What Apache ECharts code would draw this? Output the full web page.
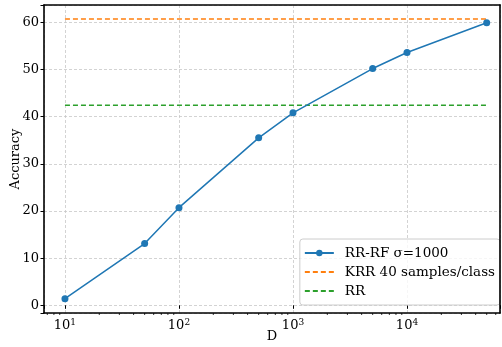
<!DOCTYPE html>
<html>
<head>
<meta charset="utf-8">
<script src="https://cdn.jsdelivr.net/npm/echarts@6/dist/echarts.min.js"></script>
<style>
  html, body { margin: 0; padding: 0; background: #fff; }
  #chart { width: 502px; height: 347px; }
</style>
</head>
<body>
<div id="chart"></div>
<script>
// data
var dims = [10, 50, 100, 500, 1000, 5000, 10000, 50000];
var rrRf = [1.4, 13.1, 20.7, 35.5, 40.8, 50.2, 53.6, 59.9];
var krr = 60.7;
var rr = 42.4;
var xMin = 6.55, xMax = 65400;
var yMin = -1.63, yMax = 63.67;

var font = 'DejaVu Serif';

// minor ticks of the log axis (2..9 x 10^k)
var minor = [];
for (var e = 0; e <= 4; e++) {
    for (var k = 2; k <= 9; k++) {
        var v = k * Math.pow(10, e);
        if (v > xMin && v < xMax) minor.push([v, yMin]);
    }
}

// plain axes used only to draw the black frame above the grid lines
function frameX(pos) {
    return {
        type: 'log', min: xMin, max: xMax, position: pos, z: 10,
        axisLine: { show: true, onZero: false, lineStyle: { color: '#000', width: 1.6 } },
        axisTick: { show: false }, axisLabel: { show: false }, splitLine: { show: false }
    };
}
function frameY(pos) {
    return {
        type: 'value', min: yMin, max: yMax, position: pos, z: 10,
        axisLine: { show: true, onZero: false, lineStyle: { color: '#000', width: 1.6 } },
        axisTick: { show: false }, axisLabel: { show: false }, splitLine: { show: false }
    };
}

var chart = echarts.init(document.getElementById('chart'));

var option = {
    animation: false,
    textStyle: { fontFamily: font },
    grid: {
        left: 44, right: 2, top: 5, bottom: 34,
        outerBoundsMode: 'none',
        containLabel: false
    },
    legend: {
        data: [
            { name: 'RR-RF σ=1000' },
            { name: 'KRR 40 samples/class', itemStyle: { opacity: 0 } },
            { name: 'RR', itemStyle: { opacity: 0 } }
        ],
        orient: 'vertical',
        right: 2, bottom: 42,
        padding: [7, 5, 7, 4],
        itemWidth: 29, itemHeight: 8, itemGap: 5,
        backgroundColor: 'rgba(255,255,255,0.8)',
        borderColor: '#cccccc', borderWidth: 1, borderRadius: 3,
        textStyle: { fontFamily: font, fontSize: 13.5, color: '#000', padding: [0, 0, 0, 6] }
    },
    xAxis: [{
        type: 'log',
        min: xMin, max: xMax,
        name: 'D', nameLocation: 'middle', nameGap: 17, nameMoveOverlap: false,
        nameTextStyle: { fontFamily: font, fontSize: 13, color: '#000' },
        axisLine: { show: false },
        axisTick: { show: true, length: 3.5, lineStyle: { color: '#000', width: 1 } },
        axisLabel: {
            color: '#000', margin: 5, fontFamily: font, fontSize: 13,
            formatter: function (v) {
                var e = Math.round(Math.log10(v));
                if (Math.abs(Math.log10(v) - e) > 1e-6) return '';
                return '10{s|' + e + '}';
            },
            rich: {
                s: { fontSize: 9, fontFamily: font, color: '#000', verticalAlign: 'top', padding: [0, 0, 6, 0] }
            }
        },
        splitLine: { show: true, lineStyle: { color: '#c8c8c8', type: [3, 2], width: 0.8 } }
    }, frameX('bottom'), frameX('top')],
    yAxis: [{
        type: 'value',
        min: yMin, max: yMax,
        name: 'Accuracy', nameLocation: 'middle', nameGap: 22, nameRotate: 90, nameMoveOverlap: false,
        nameTextStyle: { fontFamily: font, fontSize: 13, color: '#000' },
        axisLine: { show: false },
        axisTick: { show: true, length: 3.5, lineStyle: { color: '#000', width: 1 } },
        axisLabel: {
            color: '#000', margin: 5, fontFamily: font, fontSize: 13,
            formatter: function (v) {
                return Math.abs(v % 10) < 1e-6 ? String(v) : '';
            }
        },
        splitLine: { show: true, lineStyle: { color: '#c8c8c8', type: [3, 2], width: 0.8 } }
    }, frameY('left'), frameY('right')],
    series: [
        {
            name: 'RR-RF σ=1000',
            type: 'line',
            data: dims.map(function (d, i) { return [d, rrRf[i]]; }),
            symbol: 'circle', symbolSize: 7,
            lineStyle: { color: '#1f77b4', width: 1.5 },
            itemStyle: { color: '#1f77b4' },
            z: 5
        },
        {
            name: 'KRR 40 samples/class',
            type: 'line',
            data: [[dims[0], krr], [dims[dims.length - 1], krr]],
            symbol: 'none',
            lineStyle: { color: '#ff7f0e', width: 1.5, type: [5, 3] },
            itemStyle: { color: '#ff7f0e' }
        },
        {
            name: 'RR',
            type: 'line',
            data: [[dims[0], rr], [dims[dims.length - 1], rr]],
            symbol: 'none',
            lineStyle: { color: '#2ca02c', width: 1.5, type: [5, 3] },
            itemStyle: { color: '#2ca02c' }
        },
        {
            // minor ticks on the log axis
            type: 'custom',
            silent: true,
            clip: false,
            data: minor,
            renderItem: function (params, api) {
                var p = api.coord([api.value(0), api.value(1)]);
                return {
                    type: 'line',
                    shape: { x1: p[0], y1: p[1], x2: p[0], y2: p[1] + 2 },
                    style: { stroke: '#000', lineWidth: 0.8 }
                };
            }
        }
    ]
};

chart.setOption(option);
</script>
</body>
</html>
